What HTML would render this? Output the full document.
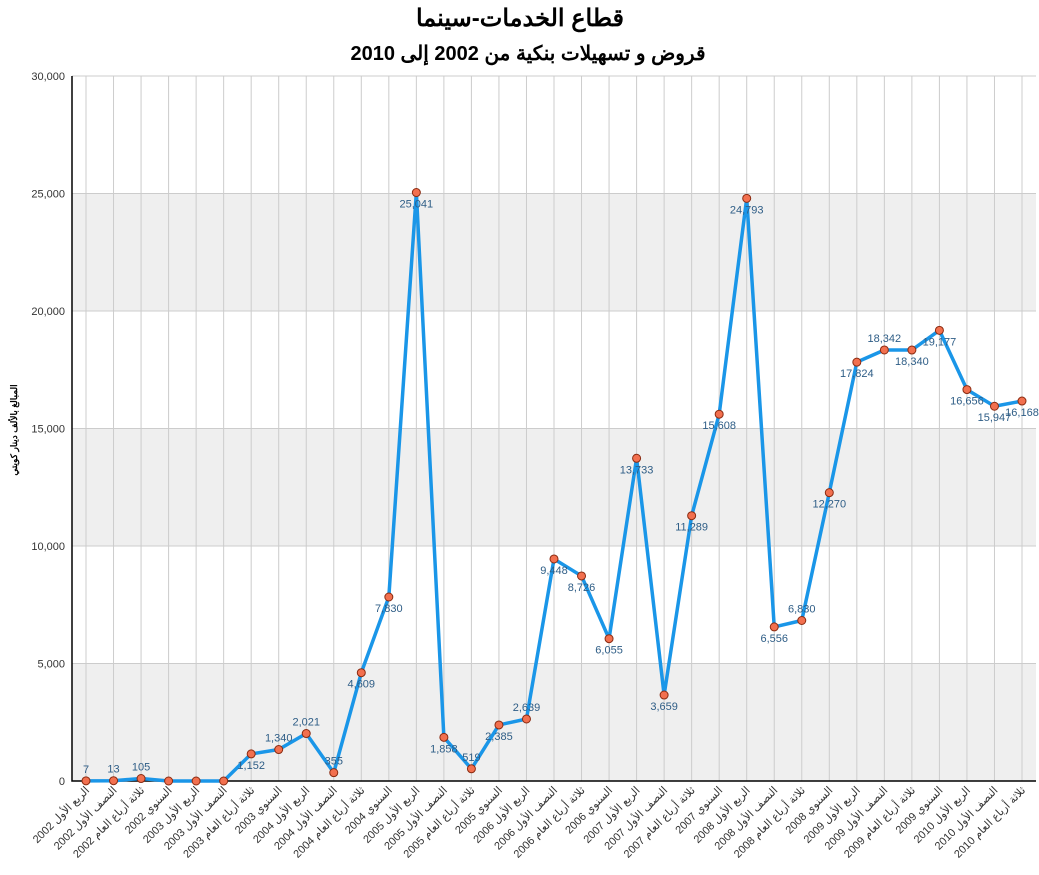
<!DOCTYPE html>
<html><head><meta charset="utf-8"><style>
body{margin:0;background:#fff;width:1039px;height:870px;overflow:hidden}
text{font-family:"Liberation Sans","Noto Sans CJK SC",sans-serif}
</style></head><body>
<svg id="c" width="1039" height="870">
<text x="520" y="26" text-anchor="middle" font-size="24" font-weight="bold" font-family="Liberation Serif">قطاع الخدمات-سينما</text>
<text x="528" y="60" text-anchor="middle" font-size="20" font-weight="bold" font-family="Liberation Serif">قروض و تسهيلات بنكية من 2002 إلى 2010</text>
<text transform="translate(17,430) rotate(-90)" text-anchor="middle" font-size="9" font-weight="bold">المبالغ بالألف دينار كويتي</text>
</svg>
<script>
const years=['2002','2002','2002','2002','2003','2003','2003','2003','2004','2004','2004','2004','2005','2005','2005','2005','2006','2006','2006','2006','2007','2007','2007','2007','2008','2008','2008','2008','2009','2009','2009','2009','2010','2010','2010'];
const periods=['الربع الأول','النصف الأول','ثلاثة أرباع العام','السنوي'];
const values=[7,13,105,0,0,0,1152,1340,2021,355,4609,7830,25041,1858,519,2385,2639,9448,8726,6055,13733,3659,11289,15608,24793,6556,6830,12270,17824,18342,18340,19177,16656,15947,16168];
const labelSide=['a','a','a','','','','b','a','a','a','b','b','b','b','a','b','a','b','b','b','b','b','b','b','b','b','a','b','b','a','b','b','b','b','b'];
const yTicks=[0,5000,10000,15000,20000,25000,30000];
const NS='http://www.w3.org/2000/svg',svg=document.getElementById('c');
const L=72,R=1036,T=76,B=781,x0=86,x1=1022;
const X=i=>x0+(x1-x0)*i/(values.length-1);
const Y=v=>B-(B-T)*v/30000;
function mk(t,a,p){const e=document.createElementNS(NS,t);for(const k in a)e.setAttribute(k,a[k]);(p||svg).appendChild(e);return e;}
for(let i=0;i<yTicks.length-1;i++){
 const r=mk('rect',{x:L,y:Y(yTicks[i+1]),width:R-L,height:Y(yTicks[i])-Y(yTicks[i+1]),fill:i%2==0?'#efefef':'#fff'});
 
 
}
yTicks.forEach(v=>{
 const l=mk('line',{x1:L,x2:R,y1:Y(v),y2:Y(v),stroke:'#ccc'});
 
 
 const t=mk('text',{x:65,y:Y(v)+4,'text-anchor':'end','font-size':11,fill:'#333'});
 t.textContent=v.toLocaleString('en-US');
 
 
});
values.forEach((v,i)=>{
 const l=mk('line',{x1:X(i),x2:X(i),y1:T,y2:B,stroke:'#ccc'});
 
 
 const t=mk('text',{transform:`translate(${X(i)+4},${B+10}) rotate(-45)`,'text-anchor':'end','font-size':11,fill:'#333'});
 t.textContent=periods[i%4]+' '+years[i];
 
 
});
const ax=mk('path',{d:`M${L},${T}V${B}H${R}`,stroke:'#000',fill:'none','stroke-width':1.5});


const line=mk('polyline',{points:values.map((v,i)=>X(i)+','+Y(v)).join(' '),fill:'none',stroke:'#1a96e8','stroke-width':3.5,'stroke-linejoin':'round'});


values.forEach((v,i)=>{
 const c=mk('circle',{cx:X(i),cy:Y(v),r:4,fill:'#f2704f',stroke:'#8a2a10','stroke-width':1});
 
 
 if(!labelSide[i])return;
 const dy=labelSide[i]=='a'?-8:15;
 const t=mk('text',{x:X(i),y:Y(v)+dy,'text-anchor':'middle','font-size':11,fill:'#2e5d86'});
 t.textContent=v.toLocaleString('en-US');
 
 
});
</script>
</body></html>
